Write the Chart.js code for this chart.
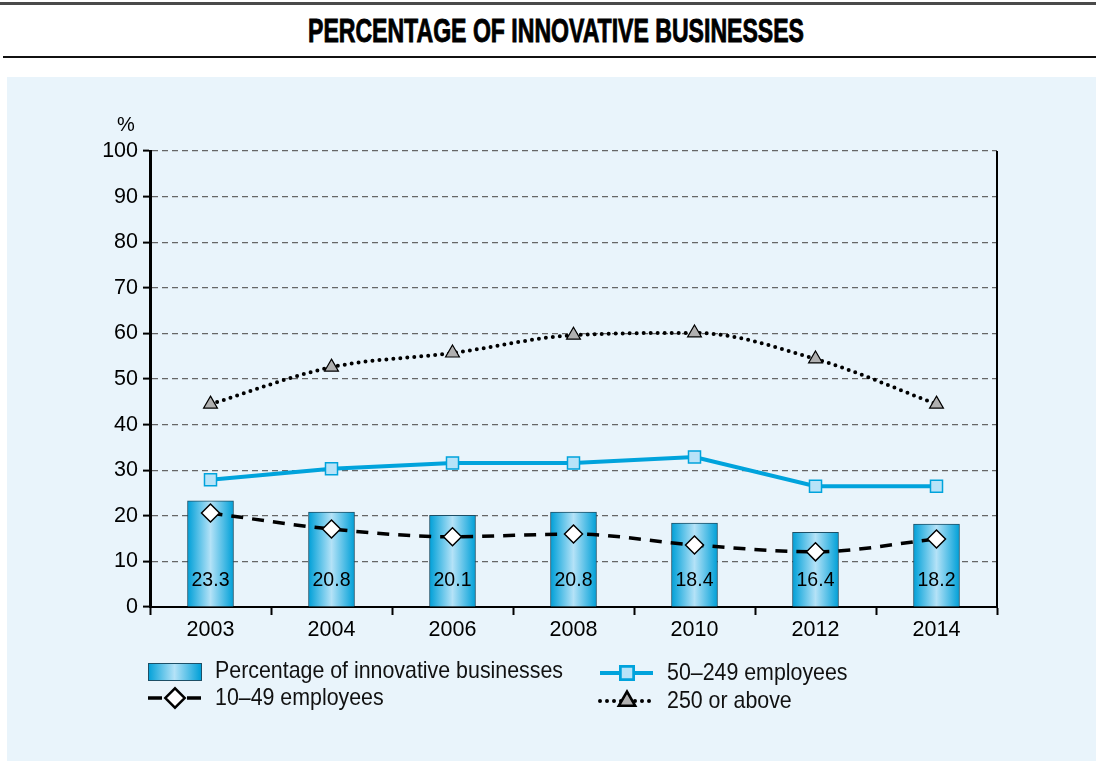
<!DOCTYPE html>
<html>
<head>
<meta charset="utf-8">
<script src="https://cdn.jsdelivr.net/npm/chart.js@4"></script>
<style>
  html, body { margin: 0; padding: 0; background: #fff; }
  #wrap { position: relative; width: 1096px; height: 761px; overflow: hidden; }
  #topline { position: absolute; left: 0; top: 2px; width: 1096px; height: 3px; background: #4a4a4a; }
  #title {
    position: absolute; left: 8px; top: 12px; width: 1096px; text-align: center;
    font: bold 33px "Liberation Sans", Arial, sans-serif;
    color: #000; transform-origin: 548px 0;
    -webkit-text-stroke: 0.9px #000;
  }
  #botline { position: absolute; left: 3px; top: 56px; width: 1093px; height: 2px; background: #111; }
  #panel { position: absolute; left: 7px; top: 77px; width: 1089px; height: 684px; background: #e9f4fb; }
  #chart { position: absolute; left: 0; top: 0; }
</style>
</head>
<body>
<div id="wrap">
  <div id="topline"></div>
  <div id="title">PERCENTAGE OF INNOVATIVE BUSINESSES</div>
  <div id="botline"></div>
  <div id="panel"></div>
  <canvas id="chart" width="1096" height="761"></canvas>
</div>
<script>
const years = ["2003", "2004", "2006", "2008", "2010", "2012", "2014"];
const innovative = [23.3, 20.8, 20.1, 20.8, 18.4, 16.4, 18.2];
const small = [20.6, 17.1, 15.4, 16.0, 13.6, 12.1, 14.9];
const medium = [27.9, 30.3, 31.6, 31.6, 32.9, 26.5, 26.5];
const large = [44.5, 52.6, 55.7, 59.6, 60.1, 54.4, 44.5];
const yTicks = [0, 10, 20, 30, 40, 50, 60, 70, 80, 90, 100];

const tickFont = { family: "'Liberation Sans', Arial, sans-serif", size: 21.5 };
const legendFont = "24px 'Liberation Sans', Arial, sans-serif";
const barBlue = "#00a3dc";
const lightBlue = "#b8e3f8";

// condensed look: squeeze the title and legend text horizontally
const measure = document.createElement("canvas").getContext("2d");
const title = document.getElementById("title");
measure.font = "bold 33px 'Liberation Sans', Arial, sans-serif";
title.style.transform = "scaleX(" + (496 / measure.measureText(title.textContent).width) + ")";
measure.font = legendFont;
const legendSqueeze = 348 / measure.measureText("Percentage of innovative businesses").width;

const barGradient = (ctx, x0, x1) => {
  const g = ctx.createLinearGradient(x0, 0, x1, 0);
  g.addColorStop(0, "#00a0d8");
  g.addColorStop(0.5, "#b4e2f7");
  g.addColorStop(1, "#00a0d8");
  return g;
};

const barFill = (c) => {
  const chart = c.chart;
  const xs = chart.scales.x;
  if (!chart.chartArea || !xs) return barBlue;
  const cx = xs.getPixelForValue(c.dataIndex);
  return barGradient(chart.ctx, cx - 23, cx + 23);
};

// labels in bars, frame, "%" and the legend
const extras = {
  id: "extras",
  afterDatasetsDraw(chart) {
    const ctx = chart.ctx;
    const xs = chart.scales.x;
    const ys = chart.scales.y;
    const area = chart.chartArea;
    ctx.save();
    ctx.font = "19.5px 'Liberation Sans', Arial, sans-serif";
    ctx.fillStyle = "#000";
    ctx.textAlign = "center";
    ctx.textBaseline = "middle";
    innovative.forEach((v, i) => {
      ctx.fillText(v.toFixed(1), xs.getPixelForValue(i), ys.getPixelForValue(0) - 26);
    });
    // right frame
    ctx.strokeStyle = "#000";
    ctx.lineWidth = 2;
    ctx.beginPath();
    ctx.moveTo(area.right, area.top);
    ctx.lineTo(area.right, area.bottom);
    ctx.stroke();
    ctx.restore();
  },
  afterDraw(chart) {
    const ctx = chart.ctx;
    const area = chart.chartArea;
    ctx.save();
    ctx.fillStyle = "#000";
    ctx.font = "20px 'Liberation Sans', Arial, sans-serif";
    ctx.textAlign = "center";
    ctx.textBaseline = "middle";
    ctx.fillText("%", area.left - 24, area.top - 26);

    const ds = chart.data.datasets;
    const items = [
      { ds: ds[0], x: 148, y: 671 },
      { ds: ds[1], x: 148, y: 698 },
      { ds: ds[2], x: 600, y: 673 },
      { ds: ds[3], x: 600, y: 701 },
    ];
    items.forEach((it) => {
      const d = it.ds;
      if (d.type === "bar") {
        ctx.fillStyle = barGradient(ctx, it.x, it.x + 53);
        ctx.fillRect(it.x, it.y - 8, 53, 17);
        ctx.strokeStyle = "#1d4f66";
        ctx.lineWidth = 1;
        ctx.strokeRect(it.x + 0.5, it.y - 7.5, 53, 17);
      } else {
        ctx.strokeStyle = d.borderColor;
        ctx.lineWidth = d.borderWidth;
        ctx.lineCap = d.borderCapStyle || "butt";
        ctx.setLineDash(d.legendDash || d.borderDash || []);
        ctx.beginPath();
        ctx.moveTo(it.x, it.y);
        ctx.lineTo(it.x + 53, it.y);
        ctx.stroke();
        ctx.setLineDash([]);
        Chart.helpers.drawPoint(ctx, {
          pointStyle: d.pointStyle,
          radius: d.pointRadius,
          borderWidth: d.pointBorderWidth,
          rotation: 0,
        }, it.x + 27, it.y);
        ctx.fillStyle = d.pointBackgroundColor;
        ctx.strokeStyle = d.pointBorderColor;
        ctx.lineWidth = d.pointBorderWidth;
        ctx.fill();
        ctx.stroke();
      }
      ctx.save();
      ctx.fillStyle = "#111";
      ctx.font = legendFont;
      ctx.textAlign = "left";
      ctx.textBaseline = "middle";
      ctx.translate(it.x + 67, it.y);
      ctx.scale(legendSqueeze, 1);
      ctx.fillText(d.label, 0, 0);
      ctx.restore();
    });
    ctx.restore();
  },
};

new Chart(document.getElementById("chart"), {
  type: "bar",
  data: {
    labels: years,
    datasets: [
      {
        type: "bar",
        label: "Percentage of innovative businesses",
        data: innovative,
        backgroundColor: barFill,
        borderColor: "#1d4f66",
        borderWidth: 1,
        barThickness: 46,
        order: 10,
      },
      {
        type: "line",
        label: "10–49 employees",
        data: small,
        borderColor: "#000",
        borderWidth: 3.5,
        borderDash: [12, 9],
        legendDash: [14, 25],
        borderCapStyle: "butt",
        cubicInterpolationMode: "monotone",
        pointStyle: "rectRot",
        pointRadius: 9,
        pointBackgroundColor: "#fff",
        pointBorderColor: "#000",
        pointBorderWidth: 1.5,
        order: 3,
      },
      {
        type: "line",
        label: "50–249 employees",
        data: medium,
        borderColor: barBlue,
        borderWidth: 4,
        tension: 0,
        pointStyle: "rect",
        pointRadius: 8.5,
        pointBackgroundColor: lightBlue,
        pointBorderColor: barBlue,
        pointBorderWidth: 1.5,
        order: 2,
      },
      {
        type: "line",
        label: "250 or above",
        data: large,
        borderColor: "#000",
        borderWidth: 4,
        borderDash: [0, 7],
        borderCapStyle: "round",
        cubicInterpolationMode: "monotone",
        pointStyle: "triangle",
        pointRadius: 8,
        pointBackgroundColor: "#b0b0b0",
        pointBorderColor: "#000",
        pointBorderWidth: 1.2,
        order: 1,
      },
    ],
  },
  options: {
    responsive: false,
    animation: false,
    devicePixelRatio: 1,
    layout: { padding: { left: 0, right: 99, top: 151, bottom: 114 } },
    plugins: {
      legend: { display: false },
      tooltip: { enabled: false },
    },
    scales: {
      x: {
        offset: true,
        afterFit: (s) => { s.height = 40; },
        grid: {
          offset: true,
          drawOnChartArea: false,
          drawTicks: true,
          tickLength: 8,
          tickColor: "#000",
          tickWidth: 2,
        },
        border: { display: true, color: "#000", width: 2 },
        ticks: { color: "#000", font: tickFont, padding: 2 },
      },
      y: {
        min: 0,
        max: 100,
        afterFit: (s) => { s.width = 150; },
        afterBuildTicks: (s) => { s.ticks = yTicks.map((v) => ({ value: v })); },
        grid: {
          color: "#666",
          lineWidth: 1.2,
          tickColor: "#000",
          tickWidth: 2,
          tickLength: 7,
          tickBorderDash: [],
        },
        border: { display: true, color: "#000", width: 3, dash: [6, 4] },
        ticks: { color: "#000", font: tickFont, padding: 5 },
      },
    },
  },
  plugins: [extras],
});
</script>
</body>
</html>
